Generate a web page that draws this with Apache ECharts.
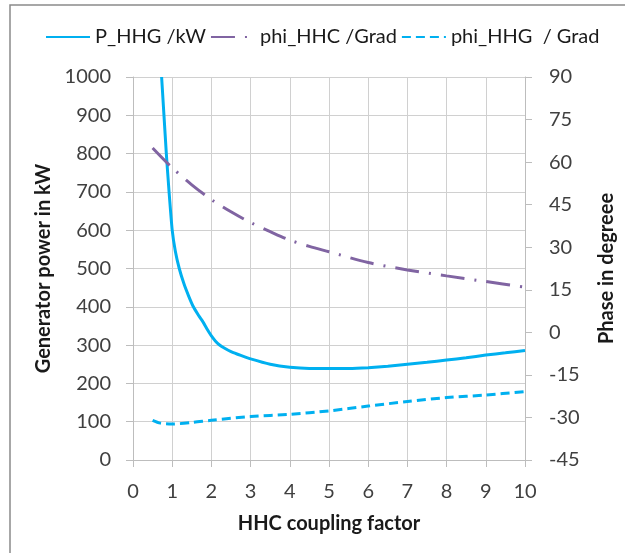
<!DOCTYPE html>
<html>
<head>
<meta charset="utf-8">
<script src="https://cdn.jsdelivr.net/npm/echarts@6/dist/echarts.min.js"></script>
<style>
html,body{margin:0;padding:0;background:#fff;}
#chart{width:625px;height:553px;}
</style>
</head>
<body>
<div id="chart"></div>
<script>
// ---- data ----
const seriesNames = ['P_HHG /kW', 'phi_HHC /Grad', 'phi_HHG  / Grad'];
const pX = [0.73,0.79,0.85,0.92,1.0,1.08,1.18,1.3,1.42,1.54,1.67,1.8,1.9,2.0,2.1,2.2,2.35,2.5,2.75,3,3.5,4,4.5,5,5.5,6,6.5,7,7.5,8,8.5,9,9.5,10];
const pVal = [1000,900,800,700,600,545,500,460,428,400,378,358,340,324,311,301,291,283,273,264,250,242,239,239,239,241,245,250,255,261,267,274,280,286];
const hhcX = [0.5,1,1.5,2,2.5,3,3.5,4,4.5,5,6,7,8,9,10];
const hhcVal = [65,58,52,46.8,42.5,38.7,35.5,32.5,30.3,28.4,24.6,22,19.9,17.9,15.9];
const hhgX = [0.5,0.7,1,1.5,2,3,4,5,6,7,8,9,10];
const hhgVal = [-31,-32,-32.3,-31.8,-31,-29.7,-28.9,-27.7,-26,-24.4,-23,-22.1,-20.9];
const xTitle = 'HHC coupling factor';
const yLeftTitle = 'Generator power in kW';
const yRightTitle = 'Phase in degreee';

const zip = (xs, ys) => xs.map((x, i) => [x, ys[i]]);
const FONT = 'Lato';
const labelStyle = {color:'#404040', fontFamily:FONT, fontSize:20};
const nameStyle = {color:'#1a1a1a', fontFamily:FONT, fontSize:20, fontWeight:'bold'};
const gridCol = '#d0d0d0';
const plain = v => String(v);

const chart = echarts.init(document.getElementById('chart'));
chart.setOption({
  animation:false,
  backgroundColor:'#fff',
  graphic:[{type:'rect', shape:{x:10, y:5, width:700, height:700}, style:{fill:'none', stroke:'#8a8a8a', lineWidth:1.5}, silent:true}],
  legend:{
    top:22, left:40, itemGap:4, itemWidth:44, itemHeight:14,
    itemStyle:{opacity:0},
    textStyle:{color:'#1a1a1a', fontFamily:FONT, fontSize:20},
    data:seriesNames
  },
  grid:{left:133, right:92, top:77, bottom:93},
  xAxis:{
    type:'value', min:0, max:10, interval:1,
    name:xTitle, nameLocation:'middle', nameGap:54, nameTextStyle:nameStyle,
    axisLine:{show:true, lineStyle:{color:'#bdbdbd'}},
    axisTick:{show:true, length:7, lineStyle:{color:'#bdbdbd'}},
    axisLabel:Object.assign({margin:22, formatter:plain}, labelStyle),
    splitLine:{show:true, lineStyle:{color:gridCol, width:1}}
  },
  yAxis:[{
    type:'value', min:0, max:1000, interval:100, position:'left',
    name:yLeftTitle, nameLocation:'middle', nameGap:72, nameTextStyle:nameStyle,
    axisLine:{show:true, lineStyle:{color:'#bdbdbd'}},
    axisTick:{show:true, length:7, lineStyle:{color:'#bdbdbd'}},
    axisLabel:Object.assign({margin:22, formatter:plain}, labelStyle),
    splitLine:{show:true, lineStyle:{color:gridCol, width:1}}
  },{
    type:'value', min:-45, max:90, interval:15, position:'right',
    name:yRightTitle, nameLocation:'middle', nameGap:72, nameRotate:90, nameTextStyle:nameStyle,
    axisLine:{show:true, lineStyle:{color:'#bdbdbd'}},
    axisTick:{show:true, length:7, lineStyle:{color:'#bdbdbd'}},
    axisLabel:Object.assign({margin:24, formatter:plain}, labelStyle),
    splitLine:{show:false}
  }],
  series:[{
    name:seriesNames[0], type:'line', yAxisIndex:0, data:zip(pX,pVal),
    showSymbol:false, symbol:'none', smooth:0.15, clip:true,
    lineStyle:{color:'#00b0f0', width:3},
    itemStyle:{color:'#00b0f0'}
  },{
    name:seriesNames[1], type:'line', yAxisIndex:1, data:zip(hhcX,hhcVal),
    showSymbol:false, symbol:'none', smooth:0.3,
    lineStyle:{color:'#8064a2', width:3, type:[24,10,2,10]},
    itemStyle:{color:'#8064a2'}
  },{
    name:seriesNames[2], type:'line', yAxisIndex:1, data:zip(hhgX,hhgVal),
    showSymbol:false, symbol:'none', smooth:0.3,
    lineStyle:{color:'#00b0f0', width:3, type:[9,5]},
    itemStyle:{color:'#00b0f0'}
  }]
});
</script>
</body>
</html>
